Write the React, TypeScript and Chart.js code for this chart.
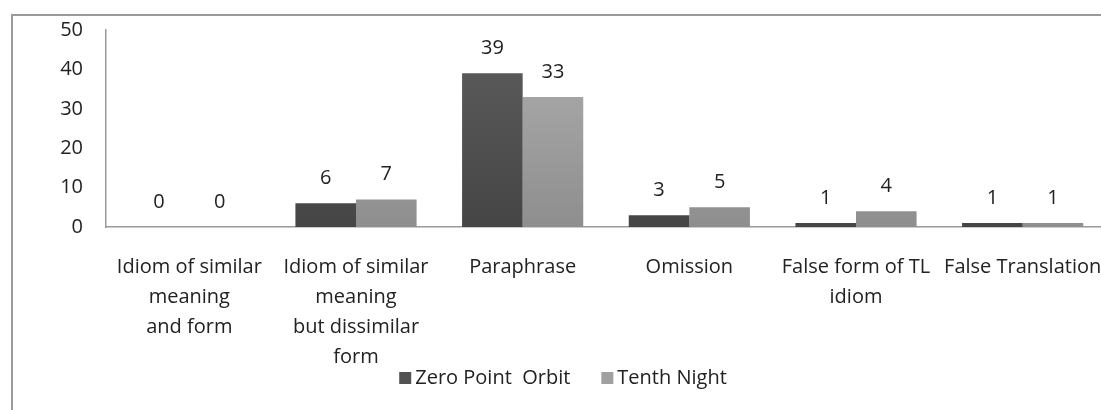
import React, { useEffect, useRef } from "react";
import { Chart, registerables } from "chart.js";

Chart.register(...registerables);

const categories: (string | string[])[] = [
  ["Idiom of similar", "meaning", "and form"],
  ["Idiom of similar", "meaning", "but dissimilar", "form"],
  "Paraphrase",
  "Omission",
  ["False form of TL", "idiom"],
  "False Translation",
];
const zeroPointOrbit = [0, 6, 39, 3, 1, 1];
const tenthNight = [0, 7, 33, 5, 4, 1];
const seriesNames = ["Zero Point  Orbit", "Tenth Night"];
const seriesSolid = ["#525252", "#a0a0a0"];
const yTicks = { min: 0, max: 50, step: 10 };

const FONT = "'Open Sans', sans-serif";
const TEXT = "#222222";

function grad(chart: any, top: string, bottom: string, solid: string) {
  const area = chart.chartArea;
  if (!area) return solid;
  const g = chart.ctx.createLinearGradient(0, area.top, 0, area.bottom);
  g.addColorStop(0, top);
  g.addColorStop(1, bottom);
  return g;
}

const valueLabels = {
  id: "valueLabels",
  afterDatasetsDraw(chart: any) {
    const ctx = chart.ctx;
    ctx.save();
    ctx.font = `20px ${FONT}`;
    ctx.fillStyle = TEXT;
    ctx.textAlign = "center";
    ctx.textBaseline = "middle";
    chart.data.datasets.forEach((ds: any, i: number) => {
      const meta = chart.getDatasetMeta(i);
      meta.data.forEach((el: any, j: number) => {
        ctx.fillText(String(ds.data[j]), el.x, el.y - 25);
      });
    });
    ctx.restore();
  },
};

// bottom legend drawn in the padding area below the category labels
const bottomLegend = {
  id: "bottomLegend",
  afterDraw(chart: any) {
    const ctx = chart.ctx;
    ctx.save();
    ctx.font = `20px ${FONT}`;
    ctx.textBaseline = "middle";
    ctx.textAlign = "left";
    const box = 12;
    const gapBoxText = 4;
    const gapItems = 31;
    const items = chart.data.datasets.map((ds: any, i: number) => ({
      text: ds.label as string,
      color: seriesSolid[i],
      w: box + gapBoxText + ctx.measureText(ds.label).width,
    }));
    const total = items.reduce((a: number, it: any) => a + it.w, 0) + gapItems * (items.length - 1);
    const cx = 563;
    const cy = 378;
    let x = cx - total / 2;
    items.forEach((it: any) => {
      ctx.fillStyle = it.color;
      ctx.fillRect(x, cy - box / 2, box, box);
      ctx.fillStyle = TEXT;
      ctx.fillText(it.text, x + box + gapBoxText, cy);
      x += it.w + gapItems;
    });
    ctx.restore();
  },
};

export default function App() {
  const ref = useRef<HTMLCanvasElement>(null);
  useEffect(() => {
    if (!ref.current) return;
    const chart = new Chart(ref.current, {
      type: "bar",
      data: {
        labels: categories,
        datasets: [
          {
            label: seriesNames[0],
            data: zeroPointOrbit,
            backgroundColor: (c: any) => grad(c.chart, "#5e5e5e", "#454545", seriesSolid[0]),
          },
          {
            label: seriesNames[1],
            data: tenthNight,
            backgroundColor: (c: any) => grad(c.chart, "#b0b0b0", "#8e8e8e", seriesSolid[1]),
          },
        ],
      },
      options: {
        animation: false,
        responsive: true,
        maintainAspectRatio: false,
        datasets: {
          bar: { categoryPercentage: 0.727, barPercentage: 1.0 },
        } as any,
        layout: { padding: { top: 30, right: 0, left: 0, bottom: 38 } },
        plugins: {
          tooltip: { enabled: false },
          legend: { display: false },
        },
        scales: {
          x: {
            grid: { display: false, drawTicks: false },
            border: { display: true, color: "#999999", width: 1.5 },
            ticks: {
              font: { family: FONT, size: 20, lineHeight: 1.5 },
              color: TEXT,
              maxRotation: 0,
              minRotation: 0,
              autoSkip: false,
              padding: 25,
            },
            afterFit: (s: any) => {
              s.height = 145;
              s.paddingLeft = 0;
              s.paddingRight = 0;
            },
          },
          y: {
            min: yTicks.min,
            max: yTicks.max,
            grid: { display: false, drawTicks: false },
            border: { display: true, color: "#999999", width: 1.5 },
            ticks: {
              stepSize: yTicks.step,
              font: { family: FONT, size: 20 },
              color: TEXT,
              padding: 23,
            },
            afterFit: (s: any) => {
              s.width = 106;
              s.paddingTop = 0;
              s.paddingBottom = 0;
            },
          },
        },
      },
      plugins: [valueLabels, bottomLegend],
    });
    return () => chart.destroy();
  }, []);

  return (
    <div
      style={{
        position: "fixed",
        left: 0,
        top: 0,
        width: 1101,
        height: 410,
        background: "#fff",
        overflow: "hidden",
      }}
    >
      <div
        style={{
          position: "absolute",
          left: 11,
          top: 14,
          width: 1100,
          height: 400,
          borderLeft: "2px solid #9a9a9a",
          borderTop: "2px solid #9a9a9a",
        }}
      />
      <div style={{ position: "absolute", left: 0, top: 0, width: 1106, height: 410 }}>
        <canvas ref={ref} />
      </div>
    </div>
  );
}
